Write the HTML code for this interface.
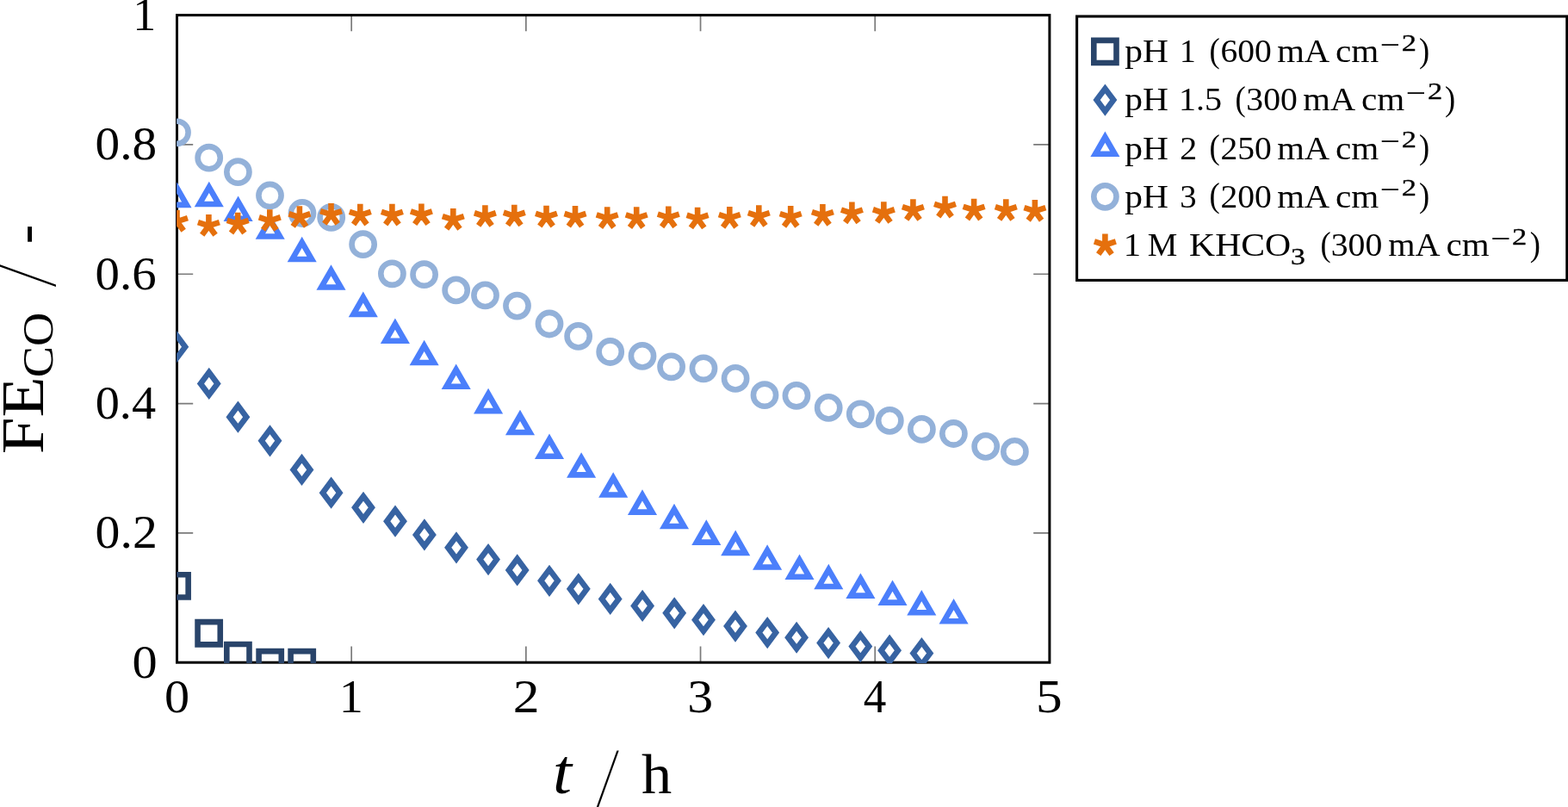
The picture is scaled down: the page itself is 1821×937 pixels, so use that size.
<!DOCTYPE html>
<html><head><meta charset="utf-8"><title>FE CO vs time</title>
<style>
html,body{margin:0;padding:0;background:#fff;}
svg{display:block;}
text{font-family:"Liberation Serif","DejaVu Serif",serif;fill:#000;}
</style></head><body>
<svg width="1821" height="937" viewBox="0 0 1821 937">
<defs>
<clipPath id="ax"><rect x="205.1" y="17.6" width="1014.2" height="752.4"/></clipPath>
<path id="msq" d="M-13.1,-13.1H13.1V13.1H-13.1Z" fill="none" stroke="#29446a" stroke-width="6.6" stroke-miterlimit="10"/>
<path id="mdi" d="M0,-13.1L9.82,0L0,13.1L-9.82,0Z" fill="none" stroke="#3763a2" stroke-width="6.6" stroke-miterlimit="10"/>
<path id="mtr" d="M0,-13.1L11.34,6.55L-11.34,6.55Z" fill="none" stroke="#4b7ffb" stroke-width="6.6" stroke-miterlimit="10"/>
<circle id="mci" r="13.1" fill="none" stroke="#93b1d9" stroke-width="6.6"/>
<path id="mst" d="M0,0L0,-13.1M0,0L12.46,-4.05M0,0L7.7,10.6M0,0L-7.7,10.6M0,0L-12.46,-4.05" fill="none" stroke="#e5700d" stroke-width="6.6"/>
</defs>
<path d="M408.18,769.2V750.5M408.18,17.6V36.3M610.86,769.2V750.5M610.86,17.6V36.3M813.54,769.2V750.5M813.54,17.6V36.3M1016.22,769.2V750.5M1016.22,17.6V36.3M205.5,618.88H224.2M1218.9,618.88H1200.2M205.5,468.56H224.2M1218.9,468.56H1200.2M205.5,318.24H224.2M1218.9,318.24H1200.2M205.5,167.92H224.2M1218.9,167.92H1200.2" stroke="#7a7a7a" stroke-width="1.7" fill="none"/>
<rect x="205.5" y="17.6" width="1013.4" height="751.6" fill="none" stroke="#000" stroke-width="3"/>
<g clip-path="url(#ax)">
<use href="#msq" x="205.55" y="680.35"/><use href="#msq" x="242.65" y="735.25"/><use href="#msq" x="276.4" y="761.15"/><use href="#msq" x="313.7" y="769.25"/><use href="#msq" x="350.7" y="769.25"/>
<use href="#mdi" x="205.3" y="402.7"/><use href="#mdi" x="242.75" y="445.45"/><use href="#mdi" x="276.4" y="484.2"/><use href="#mdi" x="313.5" y="511.8"/><use href="#mdi" x="350.5" y="545.4"/><use href="#mdi" x="384.6" y="572.2"/><use href="#mdi" x="422" y="589.35"/><use href="#mdi" x="459" y="605.15"/><use href="#mdi" x="492.9" y="620.95"/><use href="#mdi" x="530" y="635.8"/><use href="#mdi" x="567.05" y="649.6"/><use href="#mdi" x="600.7" y="661.9"/><use href="#mdi" x="638" y="674.3"/><use href="#mdi" x="671.8" y="683.8"/><use href="#mdi" x="708.7" y="695.4"/><use href="#mdi" x="746.1" y="703.4"/><use href="#mdi" x="783.2" y="711.8"/><use href="#mdi" x="817" y="719.7"/><use href="#mdi" x="854" y="727.1"/><use href="#mdi" x="891.2" y="734.55"/><use href="#mdi" x="925.1" y="740.25"/><use href="#mdi" x="962.1" y="746.6"/><use href="#mdi" x="999.3" y="750.6"/><use href="#mdi" x="1033.1" y="755.2"/><use href="#mdi" x="1070.4" y="758.5"/>
<use href="#mtr" x="205.5" y="231.3"/><use href="#mtr" x="242.8" y="230.45"/><use href="#mtr" x="276.6" y="247.2"/><use href="#mtr" x="313.7" y="268"/><use href="#mtr" x="350.7" y="294.4"/><use href="#mtr" x="384.5" y="326.9"/><use href="#mtr" x="421.8" y="358.3"/><use href="#mtr" x="458.9" y="389.25"/><use href="#mtr" x="492.65" y="414.5"/><use href="#mtr" x="529.7" y="442.15"/><use href="#mtr" x="567.1" y="470.55"/><use href="#mtr" x="604" y="495.5"/><use href="#mtr" x="638" y="523.25"/><use href="#mtr" x="675.1" y="544.85"/><use href="#mtr" x="712.2" y="567.95"/><use href="#mtr" x="746" y="588.05"/><use href="#mtr" x="783" y="604.4"/><use href="#mtr" x="820.3" y="623.05"/><use href="#mtr" x="854.2" y="635.3"/><use href="#mtr" x="891.1" y="652"/><use href="#mtr" x="928.5" y="663.15"/><use href="#mtr" x="962.3" y="674.4"/><use href="#mtr" x="999.4" y="685.1"/><use href="#mtr" x="1036.5" y="693.1"/><use href="#mtr" x="1070.3" y="704.65"/><use href="#mtr" x="1107.6" y="714.65"/>
<use href="#mci" x="205.5" y="153.8"/><use href="#mci" x="242.7" y="183.2"/><use href="#mci" x="276.4" y="199.7"/><use href="#mci" x="313.5" y="227"/><use href="#mci" x="351" y="247.5"/><use href="#mci" x="384.7" y="252.4"/><use href="#mci" x="421.65" y="283.7"/><use href="#mci" x="455.4" y="317.8"/><use href="#mci" x="492.6" y="318.7"/><use href="#mci" x="529.7" y="336.9"/><use href="#mci" x="563.5" y="342.9"/><use href="#mci" x="600.5" y="355.1"/><use href="#mci" x="638" y="376"/><use href="#mci" x="671.65" y="390.35"/><use href="#mci" x="708.7" y="408.5"/><use href="#mci" x="746" y="413.4"/><use href="#mci" x="779.6" y="425.8"/><use href="#mci" x="817" y="427.8"/><use href="#mci" x="854.1" y="439.4"/><use href="#mci" x="888" y="458.7"/><use href="#mci" x="924.95" y="459.3"/><use href="#mci" x="962.2" y="473.4"/><use href="#mci" x="999.3" y="480.8"/><use href="#mci" x="1033.3" y="488.4"/><use href="#mci" x="1070.4" y="498.4"/><use href="#mci" x="1107.4" y="503.5"/><use href="#mci" x="1144.7" y="518.4"/><use href="#mci" x="1178.4" y="524.4"/>
<use href="#mst" x="205.5" y="257.2"/><use href="#mst" x="242.4" y="262.2"/><use href="#mst" x="276.2" y="259.9"/><use href="#mst" x="313.3" y="256.3"/><use href="#mst" x="347.9" y="252.3"/><use href="#mst" x="384.5" y="249.1"/><use href="#mst" x="418.3" y="249.85"/><use href="#mst" x="455.4" y="249.9"/><use href="#mst" x="489.4" y="249.5"/><use href="#mst" x="526.3" y="255.2"/><use href="#mst" x="563.4" y="251.3"/><use href="#mst" x="597.3" y="250.8"/><use href="#mst" x="634.5" y="251.9"/><use href="#mst" x="668" y="252.05"/><use href="#mst" x="705.2" y="253.4"/><use href="#mst" x="739.2" y="253.4"/><use href="#mst" x="776.3" y="252.6"/><use href="#mst" x="810.1" y="253.8"/><use href="#mst" x="847.3" y="253.1"/><use href="#mst" x="881.3" y="251.25"/><use href="#mst" x="918.2" y="252.2"/><use href="#mst" x="955.4" y="250.2"/><use href="#mst" x="989.4" y="247.6"/><use href="#mst" x="1026.35" y="247.3"/><use href="#mst" x="1060.4" y="244.25"/><use href="#mst" x="1097.5" y="240.95"/><use href="#mst" x="1131.1" y="243.9"/><use href="#mst" x="1168.3" y="244.25"/><use href="#mst" x="1201.9" y="245.1"/>
</g>
<text x="153.43" y="786.65" font-size="53.9" textLength="29.2" lengthAdjust="spacingAndGlyphs">0</text>
<text x="110.6" y="636.33" font-size="53.9" textLength="72.19" lengthAdjust="spacingAndGlyphs">0.2</text>
<text x="110.65" y="486.01" font-size="53.9" textLength="70.43" lengthAdjust="spacingAndGlyphs">0.4</text>
<text x="110.63" y="335.69" font-size="53.9" textLength="71.06" lengthAdjust="spacingAndGlyphs">0.6</text>
<text x="110.62" y="185.37" font-size="53.9" textLength="71.56" lengthAdjust="spacingAndGlyphs">0.8</text>
<text x="154.26" y="35.05" font-size="53.9" textLength="26.98" lengthAdjust="spacingAndGlyphs">1</text>
<text x="190.93" y="826.5" font-size="53.9" textLength="29.14" lengthAdjust="spacingAndGlyphs">0</text>
<text x="393.66" y="826.5" font-size="53.9" textLength="28.12" lengthAdjust="spacingAndGlyphs">1</text>
<text x="595.8" y="826.5" font-size="53.9" textLength="30.81" lengthAdjust="spacingAndGlyphs">2</text>
<text x="798.33" y="826.5" font-size="53.9" textLength="29.9" lengthAdjust="spacingAndGlyphs">3</text>
<text x="1002.83" y="826.5" font-size="53.9" textLength="26.57" lengthAdjust="spacingAndGlyphs">4</text>
<text x="1202.99" y="826.5" font-size="53.9" textLength="30.66" lengthAdjust="spacingAndGlyphs">5</text>
<text x="641.92" y="921" font-size="74.2" textLength="21.99" lengthAdjust="spacingAndGlyphs" font-style="italic">t</text>
<text transform="translate(692.9,936.1) skewX(-10.6) scale(0.5,1)" font-size="98">/</text>
<text x="745.11" y="920.7" font-size="65.6" textLength="35.22" lengthAdjust="spacingAndGlyphs">h</text>
<g transform="translate(49.6,527) rotate(-90)">
<text x="-0.22" y="0" font-size="68.9" textLength="89.85" lengthAdjust="spacingAndGlyphs">FE</text>
<text x="88.77" y="11.5" font-size="50" textLength="75.67" lengthAdjust="spacingAndGlyphs">CO</text>
<text transform="translate(194.2,14.5) skewX(-10.6) scale(0.5,1)" font-size="98">/</text>
<text x="243.69" y="0" font-size="66" textLength="22.56" lengthAdjust="spacingAndGlyphs">-</text>
</g>
<rect x="1250.6" y="19" width="569.2" height="306.4" fill="#fff" stroke="#000" stroke-width="3.1"/>
<use href="#msq" x="1283.4" y="59.95"/>
<text x="1306.33" y="72.35" font-size="38.5" textLength="50.68" lengthAdjust="spacingAndGlyphs">pH</text>
<text x="1370.1" y="72.35" font-size="38.5" textLength="18.75" lengthAdjust="spacingAndGlyphs">1</text>
<text x="1404.53" y="72" font-size="40.7" textLength="12.25" lengthAdjust="spacingAndGlyphs">(</text>
<text x="1417.5" y="72.35" font-size="38.5" textLength="59.3" lengthAdjust="spacingAndGlyphs">600</text>
<text x="1483.15" y="72.35" font-size="38.5" textLength="61.05" lengthAdjust="spacingAndGlyphs">mA</text>
<text x="1550.93" y="72.35" font-size="38.5" textLength="50.31" lengthAdjust="spacingAndGlyphs">cm</text>
<text x="1602.43" y="63.95" font-size="36" textLength="23.39" lengthAdjust="spacingAndGlyphs">−</text>
<text x="1627.89" y="59" font-size="28.2" textLength="17.21" lengthAdjust="spacingAndGlyphs" stroke="#000" stroke-width="0.35">2</text>
<text x="1647.92" y="72" font-size="40.7" textLength="12.19" lengthAdjust="spacingAndGlyphs">)</text>
<use href="#mdi" x="1283.4" y="116.09"/>
<text x="1306.33" y="128.49" font-size="38.5" textLength="50.68" lengthAdjust="spacingAndGlyphs">pH</text>
<text x="1368.98" y="128.49" font-size="38.5" textLength="50.09" lengthAdjust="spacingAndGlyphs">1.5</text>
<text x="1434.58" y="128.14" font-size="40.7" textLength="12.25" lengthAdjust="spacingAndGlyphs">(</text>
<text x="1447.35" y="128.49" font-size="38.5" textLength="59.51" lengthAdjust="spacingAndGlyphs">300</text>
<text x="1513.2" y="128.49" font-size="38.5" textLength="61.05" lengthAdjust="spacingAndGlyphs">mA</text>
<text x="1580.98" y="128.49" font-size="38.5" textLength="50.31" lengthAdjust="spacingAndGlyphs">cm</text>
<text x="1632.48" y="120.09" font-size="36" textLength="23.39" lengthAdjust="spacingAndGlyphs">−</text>
<text x="1657.94" y="115.14" font-size="28.2" textLength="17.21" lengthAdjust="spacingAndGlyphs" stroke="#000" stroke-width="0.35">2</text>
<text x="1677.97" y="128.14" font-size="40.7" textLength="12.19" lengthAdjust="spacingAndGlyphs">)</text>
<use href="#mtr" x="1283.4" y="172.23"/>
<text x="1306.33" y="184.63" font-size="38.5" textLength="50.68" lengthAdjust="spacingAndGlyphs">pH</text>
<text x="1370.25" y="184.63" font-size="38.5" textLength="19.96" lengthAdjust="spacingAndGlyphs">2</text>
<text x="1404.53" y="184.28" font-size="40.7" textLength="12.25" lengthAdjust="spacingAndGlyphs">(</text>
<text x="1417.46" y="184.63" font-size="38.5" textLength="59.35" lengthAdjust="spacingAndGlyphs">250</text>
<text x="1483.15" y="184.63" font-size="38.5" textLength="61.05" lengthAdjust="spacingAndGlyphs">mA</text>
<text x="1550.93" y="184.63" font-size="38.5" textLength="50.31" lengthAdjust="spacingAndGlyphs">cm</text>
<text x="1602.43" y="176.23" font-size="36" textLength="23.39" lengthAdjust="spacingAndGlyphs">−</text>
<text x="1627.89" y="171.28" font-size="28.2" textLength="17.21" lengthAdjust="spacingAndGlyphs" stroke="#000" stroke-width="0.35">2</text>
<text x="1647.92" y="184.28" font-size="40.7" textLength="12.19" lengthAdjust="spacingAndGlyphs">)</text>
<use href="#mci" x="1283.4" y="228.37"/>
<text x="1306.33" y="240.77" font-size="38.5" textLength="50.68" lengthAdjust="spacingAndGlyphs">pH</text>
<text x="1370.15" y="240.77" font-size="38.5" textLength="19.37" lengthAdjust="spacingAndGlyphs">3</text>
<text x="1404.53" y="240.42" font-size="40.7" textLength="12.25" lengthAdjust="spacingAndGlyphs">(</text>
<text x="1417.46" y="240.77" font-size="38.5" textLength="59.35" lengthAdjust="spacingAndGlyphs">200</text>
<text x="1483.15" y="240.77" font-size="38.5" textLength="61.05" lengthAdjust="spacingAndGlyphs">mA</text>
<text x="1550.93" y="240.77" font-size="38.5" textLength="50.31" lengthAdjust="spacingAndGlyphs">cm</text>
<text x="1602.43" y="232.37" font-size="36" textLength="23.39" lengthAdjust="spacingAndGlyphs">−</text>
<text x="1627.89" y="227.42" font-size="28.2" textLength="17.21" lengthAdjust="spacingAndGlyphs" stroke="#000" stroke-width="0.35">2</text>
<text x="1647.92" y="240.42" font-size="40.7" textLength="12.19" lengthAdjust="spacingAndGlyphs">)</text>
<use href="#mst" x="1283.4" y="284.51"/>
<text x="1304.83" y="296.91" font-size="38.5" textLength="20.31" lengthAdjust="spacingAndGlyphs">1</text>
<text x="1332.68" y="296.91" font-size="38.5" textLength="34.56" lengthAdjust="spacingAndGlyphs">M</text>
<text x="1381" y="296.91" font-size="38.5" textLength="118.21" lengthAdjust="spacingAndGlyphs">KHCO</text>
<text x="1498.99" y="306.61" font-size="27.5" textLength="16.82" lengthAdjust="spacingAndGlyphs" stroke="#000" stroke-width="0.35">3</text>
<text x="1533.39" y="296.56" font-size="40.7" textLength="12.19" lengthAdjust="spacingAndGlyphs">(</text>
<text x="1545.7" y="296.91" font-size="38.5" textLength="59.62" lengthAdjust="spacingAndGlyphs">300</text>
<text x="1612.16" y="296.91" font-size="38.5" textLength="60.34" lengthAdjust="spacingAndGlyphs">mA</text>
<text x="1679.54" y="296.91" font-size="38.5" textLength="50.1" lengthAdjust="spacingAndGlyphs">cm</text>
<text x="1730.93" y="288.51" font-size="36" textLength="23.39" lengthAdjust="spacingAndGlyphs">−</text>
<text x="1756.09" y="283.56" font-size="28.2" textLength="17.21" lengthAdjust="spacingAndGlyphs" stroke="#000" stroke-width="0.35">2</text>
<text x="1776.82" y="296.56" font-size="40.7" textLength="12.19" lengthAdjust="spacingAndGlyphs">)</text>
</svg>
</body></html>
